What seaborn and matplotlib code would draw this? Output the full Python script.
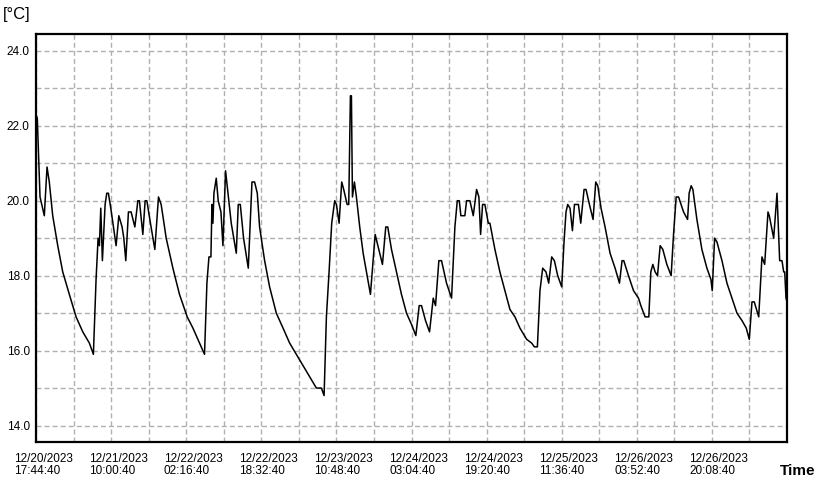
import datetime as dt
import numpy as np
import pandas as pd
import matplotlib
matplotlib.use("Agg")
import matplotlib.pyplot as plt
import matplotlib.dates as mdates
from matplotlib.transforms import ScaledTranslation
import seaborn as sns

# ---- data: hours elapsed since 12/20/2023 17:44:40, temperature in °C ----
start = dt.datetime(2023, 12, 20, 17, 44, 40)
hours = [
    0.00, 0.28, 0.87, 1.80, 2.39, 2.88, 3.62, 4.71, 5.79, 7.22, 8.68, 10.13, 11.56, 12.43,
    13.01, 13.45, 13.73, 14.03, 14.38, 14.97, 15.33, 15.68, 16.20, 16.77, 17.35, 17.94,
    18.65, 19.02, 19.45, 20.02, 20.60, 21.41, 22.06, 22.40, 23.14, 23.64, 24.01, 24.79,
    25.74, 26.53, 27.11, 28.20, 29.65, 31.08, 32.75, 33.99, 35.07, 36.50,
    37.02, 37.46, 37.89, 38.11, 38.32, 38.54, 39.04, 39.47, 40.06, 40.49, 41.06, 41.58,
    42.29, 43.38, 43.81, 44.25, 44.96, 45.98, 46.78, 47.35, 47.93, 48.43, 49.52, 50.60,
    52.05, 53.51, 54.94, 56.39, 57.84, 59.28, 60.73, 61.81, 62.40,
    62.90, 63.48, 64.05, 64.70, 65.07, 65.65, 66.22, 66.65, 67.39, 67.74, 68.10, 68.32,
    68.54, 68.97, 69.40, 70.12, 70.86, 71.57, 72.44, 73.46, 74.24, 75.04, 75.76, 76.19,
    77.00, 78.08, 79.16, 80.25, 81.33, 82.27, 83.00, 83.50, 84.37, 85.24, 86.04, 86.54,
    87.26, 87.84, 88.92, 90.01, 90.73, 91.25, 91.68, 92.03, 92.89, 93.26, 93.98, 94.71,
    95.43, 95.93, 96.30, 96.73, 97.23, 97.97, 98.32, 99.40, 100.48, 101.57, 102.65,
    103.74, 104.82, 106.28, 107.36, 107.95, 108.60,
    109.16, 109.75, 110.46, 111.05, 111.70, 112.28, 113.00, 113.87, 114.37, 114.80,
    115.17, 115.67, 116.19, 116.63, 117.49, 117.99, 118.71, 119.14, 119.87, 120.66,
    121.24, 121.68, 122.39, 123.26, 124.34, 125.43, 126.38, 126.94, 127.31, 128.33,
    129.42, 130.50, 131.01, 131.93, 132.74,
    133.17, 133.61, 134.10, 134.62, 135.19, 135.77, 136.64, 137.57, 138.09, 138.66,
    139.18, 140.26, 141.13, 141.47, 141.91, 142.28, 143.15, 144.23, 145.32, 146.19,
    146.47, 146.99, 147.49, 148.58, 149.66, 150.75, 151.83, 152.92, 153.84, 154.50,
    155.08, 155.58, 156.54, 157.24, 157.83, 158.55, 158.83, 159.78, 160.50, 161.08,
    161.58, 161.95, 162.17, 162.45, 162.67,
]
temps = [
    22.3, 22.2, 20.1, 19.6, 20.9, 20.5, 19.6, 18.8, 18.1, 17.5, 16.9, 16.5, 16.2, 15.9,
    17.9, 19.0, 18.8, 19.8, 18.4, 19.9, 20.2, 20.2, 19.8, 19.3, 18.8, 19.6,
    19.3, 19.0, 18.4, 19.7, 19.7, 19.3, 20.0, 20.0, 19.1, 20.0, 20.0, 19.4,
    18.7, 20.1, 19.9, 19.0, 18.2, 17.5, 16.9, 16.6, 16.3, 15.9,
    17.8, 18.5, 18.5, 19.9, 19.4, 20.2, 20.6, 20.0, 19.7, 18.8, 20.8, 20.2,
    19.4, 18.6, 19.9, 19.9, 19.0, 18.2, 20.5, 20.5, 20.2, 19.3, 18.4, 17.7,
    17.0, 16.6, 16.2, 15.9, 15.6, 15.3, 15.0, 15.0, 14.8,
    16.9, 18.1, 19.4, 20.0, 19.9, 19.4, 20.5, 20.3, 19.9, 19.9, 22.8, 22.8,
    20.1, 20.5, 20.1, 19.3, 18.6, 18.1, 17.5, 19.1, 18.7, 18.3, 19.3, 19.3,
    18.7, 18.1, 17.5, 17.0, 16.7, 16.4, 17.2, 17.2, 16.8, 16.5, 17.4, 17.2,
    18.4, 18.4, 17.8, 17.4, 19.3, 20.0, 20.0, 19.6, 19.6, 20.0, 20.0, 19.6,
    20.3, 20.1, 19.1, 19.9, 19.9, 19.4, 19.4, 18.7, 18.1, 17.6, 17.1,
    16.9, 16.6, 16.3, 16.2, 16.1, 16.1,
    17.6, 18.2, 18.1, 17.8, 18.5, 18.4, 18.0, 17.7, 18.9, 19.7,
    19.9, 19.8, 19.2, 19.9, 19.9, 19.4, 20.3, 20.3, 19.9, 19.5,
    20.5, 20.4, 19.8, 19.3, 18.6, 18.2, 17.8, 18.4, 18.4, 18.0,
    17.6, 17.4, 17.2, 16.9, 16.9,
    18.1, 18.3, 18.1, 18.0, 18.8, 18.7, 18.3, 18.0, 19.1, 20.1,
    20.1, 19.7, 19.5, 20.2, 20.4, 20.3, 19.5, 18.7, 18.2, 17.9,
    17.6, 19.0, 18.9, 18.4, 17.8, 17.4, 17.0, 16.8, 16.6, 16.3,
    17.3, 17.3, 16.9, 18.5, 18.3, 19.7, 19.6, 19.0, 20.2, 18.4,
    18.4, 18.1, 18.1, 17.4, 17.3,
]
y_tick_values = [14, 15, 16, 17, 18, 19, 20, 21, 22, 23, 24]
y_unit_label = "[°C]"
x_axis_title = "Time"

df = pd.DataFrame({
    "time": [start + dt.timedelta(hours=h) for h in hours],
    "temp": temps,
})

sns.set_style("white")
plt.rcParams["font.family"] = ["Liberation Sans", "DejaVu Sans"]

fig = plt.figure(figsize=(8.29, 4.86), dpi=100)
ax = fig.add_axes([36 / 829, 44 / 486, 751 / 829, 408 / 486])

sns.lineplot(data=df, x="time", y="temp", color="black", linewidth=1.1, ax=ax)

step = dt.timedelta(hours=8, minutes=8)
xticks = [start + k * step for k in range(21)]
ax.set_xlim(mdates.date2num(xticks[0]), mdates.date2num(xticks[-1]))
ax.set_xticks([mdates.date2num(t) for t in xticks])
ax.set_xticklabels([
    (t.strftime("%m/%d/%Y") + "\n" + t.strftime("%H:%M:%S")) if (k % 2 == 0 and k < 20) else ""
    for k, t in enumerate(xticks)
])
ax.set_ylim(13.56, 24.45)
ax.set_yticks(y_tick_values)
ax.set_yticklabels([f"{v:.1f}" if v % 2 == 0 else "" for v in y_tick_values])

ax.tick_params(axis="both", length=0, labelsize=8.5, colors="black")
ax.tick_params(axis="x", pad=8)
ax.tick_params(axis="y", pad=4.5)
offset = ScaledTranslation(7 / 100, 0, fig.dpi_scale_trans)
for lab in ax.get_xticklabels():
    lab.set_transform(lab.get_transform() + offset)
    lab.set_multialignment("left")
    lab.set_linespacing(1.0)

ax.grid(True, color="#b0b0b0", linestyle=(0, (3.6, 2.2)), linewidth=1.0)
ax.set_axisbelow(True)
for sp in ax.spines.values():
    sp.set_visible(True)
    sp.set_color("black")
    sp.set_linewidth(1.6)

ax.set_xlabel("")
ax.set_ylabel("")
fig.text(3 / 829, 1 - 14 / 486, y_unit_label, fontsize=12, ha="left", va="center", color="black")
fig.text(780 / 829, 1 - 475 / 486, x_axis_title, fontsize=11, fontweight="bold",
         ha="left", va="baseline", color="black")

fig.savefig("out.png", dpi=100)
